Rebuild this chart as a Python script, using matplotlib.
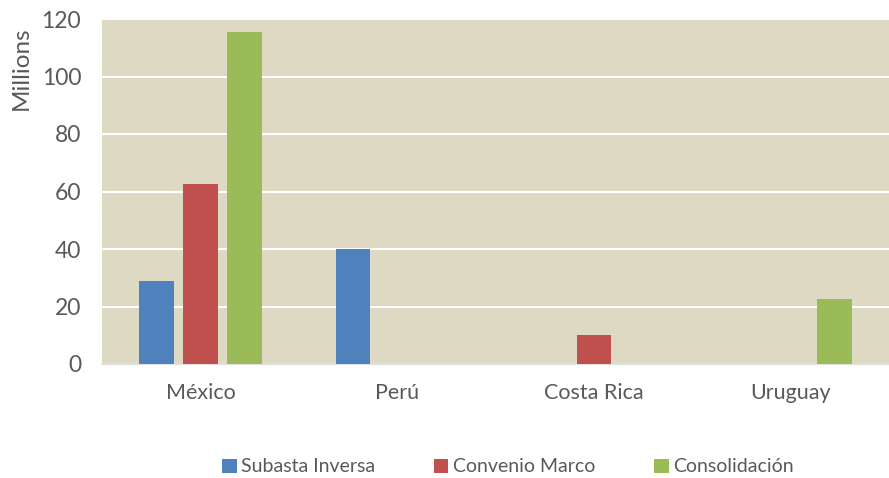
import numpy as np
import matplotlib
matplotlib.use('Agg')
import matplotlib.pyplot as plt
from matplotlib.patches import Patch

plt.rcParams['font.family'] = ['Lato', 'DejaVu Sans']

countries = ["México", "Perú", "Costa Rica", "Uruguay"]
series = ["Subasta Inversa", "Convenio Marco", "Consolidación"]
subasta = [28.9, 40.0, 0, 0]
convenio = [62.5, 0, 10.1, 0]
consolidacion = [115.5, 0, 0, 22.5]
colors = ["#4F81BD", "#C0504D", "#9BBB59"]
txt = "#595959"

fig = plt.figure(figsize=(8.89, 4.78), dpi=100)
ax = fig.add_axes([102 / 889, 1 - 364 / 478, 787 / 889, 345 / 478])
ax.set_facecolor("#DDD9C3")

x = np.arange(len(countries))
w = 0.175
step = 0.224
for i, vals in enumerate([subasta, convenio, consolidacion]):
    ax.bar(x + (i - 1) * step, vals, width=w, color=colors[i], zorder=3)

ax.set_xlim(-0.5, 3.5)
ax.set_ylim(0, 120)
ax.set_yticks(np.arange(0, 121, 20))
ax.yaxis.grid(True, color="white", linewidth=1.5, zorder=1)
ax.set_axisbelow(True)
ax.set_xticks(x)
ax.set_xticklabels(countries)
ax.tick_params(axis="x", length=0, labelsize=15.5, colors=txt, pad=14)
ax.tick_params(axis="y", length=0, labelsize=16.5, colors=txt, pad=15)
for s in ["top", "right", "left"]:
    ax.spines[s].set_visible(False)
ax.spines["bottom"].set_color("#D9D9D9")
ax.spines["bottom"].set_linewidth(1.2)

fig.text(21 / 889, 1 - 68 / 478, "Millions", rotation=90, ha="center", va="center",
         fontsize=17.5, color=txt)

handles = [Patch(facecolor=c) for c in colors]
fig.legend(handles, series, loc="center", bbox_to_anchor=(508 / 889, 1 - 467 / 478),
           ncol=3, frameon=False, fontsize=14, labelcolor=txt,
           handlelength=0.75, handleheight=0.75, handletextpad=0.25, columnspacing=3.0)

fig.savefig("out.png", dpi=100)
